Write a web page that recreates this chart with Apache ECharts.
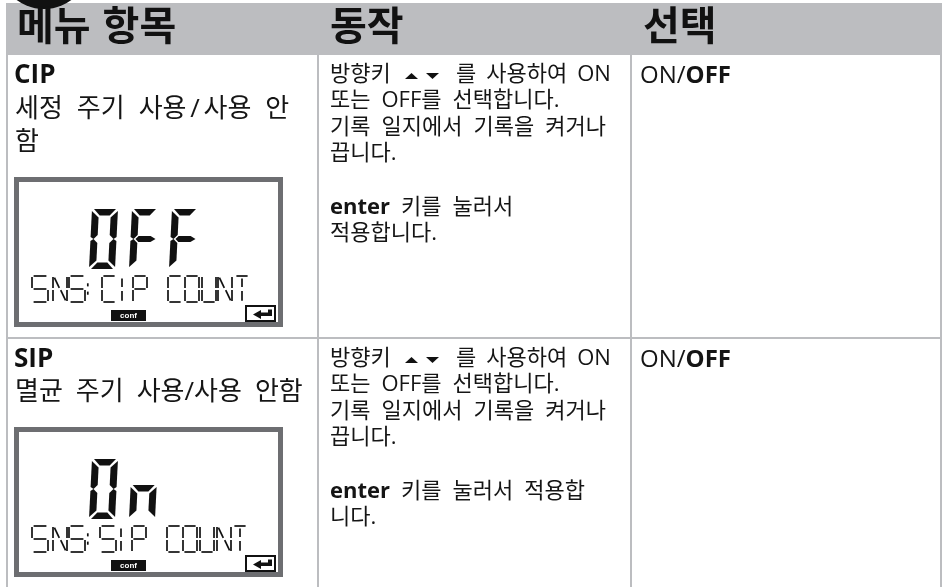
<!DOCTYPE html>
<html>
<head>
<meta charset="utf-8">
<style>html,body{margin:0;background:#fff}#main{width:944px;height:587px}</style>
<script src="https://cdn.jsdelivr.net/npm/echarts@6/dist/echarts.min.js"></script>
</head>
<body>
<div id="main"></div>
<script>
const headers = ["메뉴 항목", "동작", "선택"]
const menuTitles = ["CIP", "SIP"]
const menuLines = [["세정 주기 사용/사용 안", "함"], ["멸균 주기 사용/사용 안함"]]
const arrowLine = ["방향키", "를 사용하여 ON"]
const actionRows = [
    ["또는 OFF를 선택합니다.", "기록 일지에서 기록을 켜거나", "끕니다.", "", "enter 키를 눌러서", "적용합니다."],
    ["또는 OFF를 선택합니다.", "기록 일지에서 기록을 켜거나", "끕니다.", "", "enter 키를 눌러서 적용합", "니다."]
]
const bigWords = ["OFF", "On"]
const smallWords = ["SNS: CIP COUNT", "SNS: SIP COUNT"]

const GRAY = "#bcbdc0"
const LCD = "#6d6e71"
const KR = "'Open Sans','Noto Sans CJK KR'"

// 큰 7세그먼트 (26x60 기준, 살짝 기울임)
const bigSegs = {
    a: [[2, 0], [24, 0], [18, 6.5], [8, 6.5]],
    b: [[26, 2], [26, 28], [23, 30], [19, 26], [19, 8.5]],
    c: [[26, 32], [26, 58], [19, 51.5], [19, 34], [23, 30]],
    d: [[2, 60], [24, 60], [18, 53.5], [8, 53.5]],
    e: [[0, 32], [0, 58], [7, 51.5], [7, 34], [3, 30]],
    f: [[0, 2], [0, 28], [3, 30], [7, 26], [7, 8.5]],
    g: [[5, 30], [8, 27], [20, 27], [25, 30], [20, 33], [8, 33]],
    na: [[2, 26], [24, 26], [18, 32.5], [8, 32.5]],
    nc: [[26, 28], [26, 58], [19, 51.5], [19, 34.5]],
    ne: [[0, 28], [0, 58], [7, 51.5], [7, 34.5]]
}
const bigGlyphs = { O: ["a", "b", "c", "d", "e", "f"], F: ["a", "e", "f", "g"], n: ["na", "nc", "ne"] }

// 작은 LCD 글자 선분 (0~1 단위)
const TOP = [[.1, 0], [.9, 0]], MID = [[.1, .5], [.9, .5]], BOT = [[.1, 1], [.9, 1]]
const UL = [[0, .04], [0, .46]], UR = [[1, .04], [1, .46]], LL = [[0, .54], [0, .96]], LR = [[1, .54], [1, .96]]
const smallGlyphs = {
    S: [TOP, UL, MID, LR, BOT],
    N: [UL, LL, UR, LR, [[.1, .06], [.45, .46]], [[.55, .54], [.9, .94]]],
    C: [TOP, UL, LL, BOT],
    I: [[[.5, .1], [.5, .42]], [[.5, .58], [.5, .95]]],
    P: [TOP, UL, LL, UR, MID],
    O: [TOP, UL, LL, UR, LR, BOT],
    U: [UL, LL, UR, LR, BOT],
    T: [TOP, [[.5, .1], [.5, .42]], [[.5, .58], [.5, .95]]],
    ":": [[[.2, .28], [.2, .4]], [[.2, .6], [.2, .72]]]
}

const elements = []

// 한글/라틴 글자 크기와 단어 간격을 따로 주는 텍스트
function addLine(x, y, text, size, latin, gap, boldWords, slashW) {
    let s = text.replace(/[A-Za-z]+/g, m => (boldWords && boldWords.includes(m) ? "{b|" : "{l|") + m + "}")
    s = s.replace(/ /g, "{s| }")
    if (slashW) s = s.replace("/", "{c|/}")
    elements.push({
        type: "text", z: 10,
        style: {
            x, y, text: s, fill: "#151515", verticalAlign: "middle",
            font: `normal ${size}px ${KR}`,
            rich: {
                l: { font: `normal ${latin}px ${KR}`, fill: "#151515" },
                b: { font: `bold ${latin}px ${KR}`, fill: "#151515" },
                s: { width: gap, font: `normal ${size}px ${KR}` },
                c: { width: slashW, align: "center", font: `normal ${size}px ${KR}`, fill: "#151515" }
            }
        }
    })
}
function addText(x, y, text, font, fill, align) {
    elements.push({
        type: "text", z: 10,
        style: { x, y, text, fill: fill || "#151515", font, verticalAlign: "middle", align: align || "left" }
    })
}
function addRect(x, y, w, h, fill) {
    elements.push({ type: "rect", shape: { x, y, width: w, height: h }, style: { fill }, z: 1 })
}
function addPoly(points, fill) {
    elements.push({ type: "polygon", shape: { points }, style: { fill }, z: 5 })
}

// 표 틀
addRect(6, 3, 936, 52, GRAY)
addRect(6, 55, 2, 532, GRAY)
addRect(317, 55, 2, 532, GRAY)
addRect(630, 55, 2, 532, GRAY)
addRect(940, 55, 2, 532, GRAY)
addRect(6, 337, 936, 2, GRAY)
elements.push({ type: "circle", shape: { cx: 44, cy: -37, r: 46 }, style: { fill: "#111" }, z: 2 })

const headerX = [17, 330, 643]
headers.forEach((h, i) => elements.push({
    type: "text", z: 10,
    style: {
        x: headerX[i], y: 28.5, text: h.replace(/ /g, "{s| }"), fill: "#111", verticalAlign: "middle",
        font: `bold 40px ${KR}`, rich: { s: { width: 12, font: `bold 40px ${KR}` } }
    }
}))

const titleY = [76, 360]
const menuY = [[110, 143], [393]]
const menuGap = [14, 13]
const slashWidth = [17, 0]
const actionY = [[101, 128, 154, 0, 208, 234], [385, 412, 438, 0, 492, 518]]
const lcdTop = [177, 427]
const bigX = [[92, 132, 172], [92, 132]]
const bigY = [209, 459]
const smallY = [276, 526]
const smallX = [
    [32, 53, 69, 85, 0, 102, 115, 133, 0, 168, 185, 202, 218, 235],
    [32, 53, 69, 85, 0, 100, 114, 132, 0, 167, 183, 200, 217, 233]
]

menuTitles.forEach((t, r) => {
    const y0 = titleY[r]
    addText(14, y0, t, `bold 26px ${KR}`, "#111")
    menuLines[r].forEach((l, i) => addLine(15, menuY[r][i], l, 26, 24, menuGap[r], null, slashWidth[r]))

    // 방향키 줄
    addLine(330, y0 - 1, arrowLine[0], 22, 22, 11)
    addPoly([[405, y0 + 3], [418, y0 + 3], [411.5, y0 - 3]], "#111")
    addPoly([[426, y0 - 3], [439, y0 - 3], [432.5, y0 + 3]], "#111")
    addLine(456, y0 - 1, arrowLine[1], 22, 22, 10)
    actionRows[r].forEach((l, i) => {
        if (l) addLine(330, actionY[r][i], l, 22, 22, 11, ["enter"])
    })

    addLine(640, y0, "ON/OFF", 24, 24, 0, ["OFF"])

    // LCD 화면
    const ly = lcdTop[r]
    addRect(14, ly, 269, 150, LCD)
    addRect(19, ly + 5, 259, 140, "#fff")
    bigWords[r].split("").forEach((ch, i) => {
        bigGlyphs[ch].forEach(n => addPoly(
            bigSegs[n].map(p => [bigX[r][i] + p[0] + (30 - p[1]) * .05 - 1.5, bigY[r] + p[1]]), "#111"))
    })
    smallWords[r].split("").forEach((ch, i) => {
        const g = smallGlyphs[ch]
        if (!g) return
        const w = ch === "S" ? 16 : 14
        g.forEach(line => elements.push({
            type: "polyline", z: 5,
            shape: { points: line.map(p => [smallX[r][i] + p[0] * w, smallY[r] + p[1] * 26]) },
            style: { stroke: "#111", lineWidth: 1.7, fill: null }
        }))
    })
    addRect(111, ly + 133, 35, 11, "#111")
    addText(128.5, ly + 139, "conf", "bold 8px 'Liberation Sans'", "#fff", "center")
    elements.push({ type: "rect", z: 5, shape: { x: 246, y: ly + 129, width: 29, height: 15 }, style: { stroke: "#111", lineWidth: 2, fill: "#fff" } })
    addPoly([[253, ly + 137.5], [261, ly + 133], [261, ly + 135.5], [268, ly + 135.5], [268, ly + 132.5], [272, ly + 132.5], [272, ly + 139], [261, ly + 139], [261, ly + 142]], "#111")
})

const chart = echarts.init(document.getElementById("main"))
chart.setOption({ animation: false, graphic: { elements } })
</script>
</body>
</html>
